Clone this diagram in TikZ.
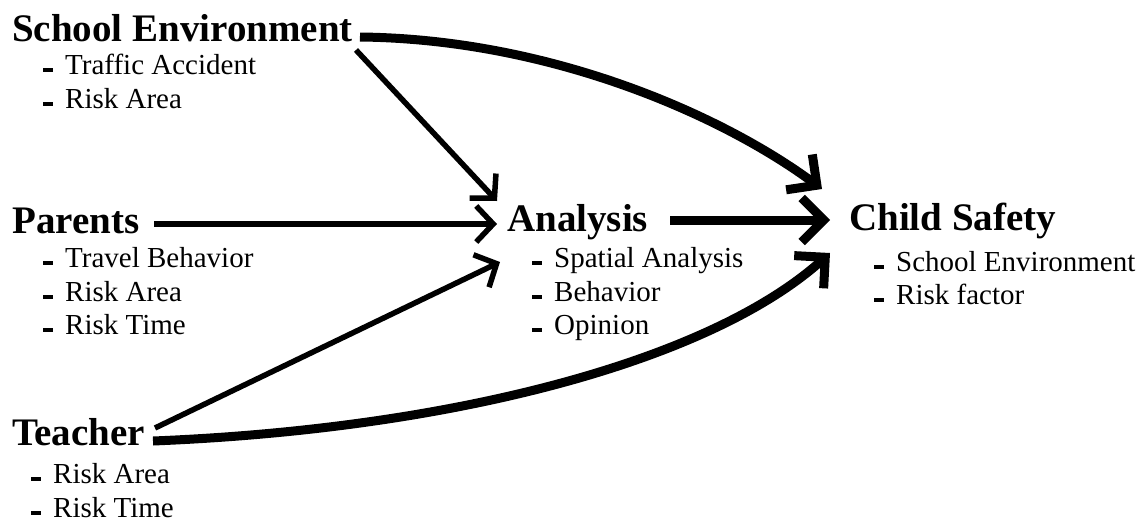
\documentclass[tikz,border=0pt]{standalone}
\usepackage{fontspec}
\setmainfont{Liberation Serif}
\usetikzlibrary{arrows.meta}
\newcommand\dashmk{\rule[2.5pt]{10pt}{3.8pt}\hspace{12pt}}
\tikzset{
  title/.style={anchor=base west, inner sep=0pt, font=\fontsize{39}{40}\selectfont\bfseries},
  item/.style={anchor=base west, inner sep=0pt, font=\fontsize{29}{32}\selectfont},
  thin/.style={line width=5.5pt, -{Straight Barb[length=17pt,width=36pt,line width=5.5pt]}},
  thick/.style={line width=9pt, -{Straight Barb[length=22pt,width=44pt,line width=9pt]}}
}
\begin{document}
\begin{tikzpicture}[x=1pt,y=-1pt]
\useasboundingbox (0,0) rectangle (1146,522);
% titles
\node[title] (se) at (12,41) {School Environment};
\node[title] (pa) at (12,233) {Parents};
\node[title] (te) at (12,445) {Teacher};
\node[title] (an) at (507,231) {Analysis};
\node[title] (cs) at (849,230) {Child Safety};
% items
\node[item] (se1) at (43,74.5) {\dashmk Traffic Accident};
\node[item] (se2) at (43,108) {\dashmk Risk Area};
\node[item] (pa1) at (43,267) {\dashmk Travel Behavior};
\node[item] (pa2) at (43,301) {\dashmk Risk Area};
\node[item] (pa3) at (43,334) {\dashmk Risk Time};
\node[item] (te1) at (31,483) {\dashmk Risk Area};
\node[item] (te2) at (31,517) {\dashmk Risk Time};
\node[item] (an1) at (532,267) {\dashmk Spatial Analysis};
\node[item] (an2) at (532,301) {\dashmk Behavior};
\node[item] (an3) at (532,334) {\dashmk Opinion};
\node[item] (cs1) at (874,271) {\dashmk School Environment};
\node[item] (cs2) at (874,304) {\dashmk Risk factor};
% connectors
\draw[thin] ([shift={(3,9)}]se.base east) -- ([shift={(-10,-30)}]an.base west);
\draw[thick] ([shift={(7,-4)}]se.base east) .. controls +(190,2) and +(-100,-74) .. ([shift={(-27,-41)}]cs.base west);
\draw[thin] ([shift={(15,-9)}]pa.base east) -- ([shift={(-10,-7)}]an.base west);
\draw[thick] ([shift={(22,-11)}]an.base east) -- ([shift={(-19,-10)}]cs.base west);
\draw[thin] ([shift={(143,-17)}]te.base west) -- ([shift={(-7,31)}]an.base west);
\draw[thick] ([shift={(141,-4)}]te.base west) .. controls +(300,-12) and +(-120,108) .. ([shift={(-19,23)}]cs.base west);
\end{tikzpicture}
\end{document}
